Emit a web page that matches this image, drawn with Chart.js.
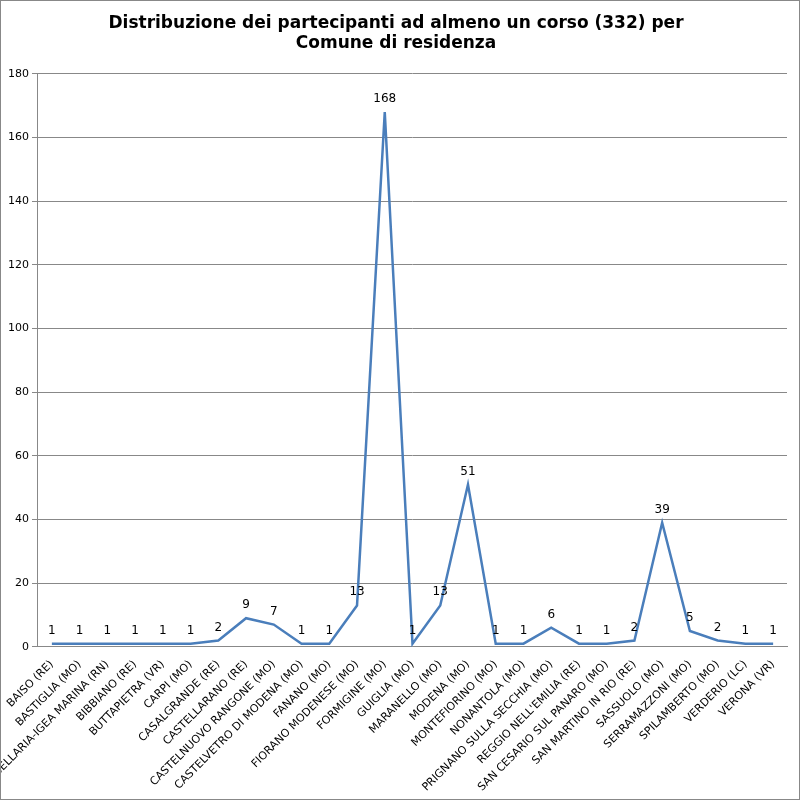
<!DOCTYPE html>
<html><head><meta charset="utf-8">
<script src="https://cdn.jsdelivr.net/npm/chart.js@4"></script>
<style>html,body{margin:0;background:#fff}#wrap{width:798px;height:798px;border:1px solid #888;position:relative}</style>
</head><body><div id="wrap"><canvas id="c" width="798" height="798"></canvas></div>
<script>
var comuni = ["BAISO (RE)","BASTIGLIA (MO)","BELLARIA-IGEA MARINA (RN)","BIBBIANO (RE)","BUTTAPIETRA (VR)","CARPI (MO)","CASALGRANDE (RE)","CASTELLARANO (RE)","CASTELNUOVO RANGONE (MO)","CASTELVETRO DI MODENA (MO)","FANANO (MO)","FIORANO MODENESE (MO)","FORMIGINE (MO)","GUIGLIA (MO)","MARANELLO (MO)","MODENA (MO)","MONTEFIORINO (MO)","NONANTOLA (MO)","PRIGNANO SULLA SECCHIA (MO)","REGGIO NELL'EMILIA (RE)","SAN CESARIO SUL PANARO (MO)","SAN MARTINO IN RIO (RE)","SASSUOLO (MO)","SERRAMAZZONI (MO)","SPILAMBERTO (MO)","VERDERIO (LC)","VERONA (VR)"];
var partecipanti = [1,1,1,1,1,1,2,9,7,1,1,13,168,1,13,51,1,1,6,1,1,2,39,5,2,1,1];
var titolo = ["Distribuzione dei partecipanti ad almeno un corso (332) per","Comune di residenza"];

var valueLabels = {
  id: "valueLabels",
  afterDatasetsDraw: function (chart) {
    var ctx = chart.ctx;
    var meta = chart.getDatasetMeta(0);
    ctx.save();
    ctx.font = "12px 'DejaVu Sans'";
    ctx.fillStyle = "#000";
    ctx.textAlign = "center";
    meta.data.forEach(function (p, i) {
      ctx.fillText(partecipanti[i], p.x, p.y - 10);
    });
    ctx.restore();
  }
};

new Chart(document.getElementById("c").getContext("2d"), {
  type: "line",
  data: {
    labels: comuni,
    datasets: [{
      data: partecipanti,
      borderColor: "#4a7ebb",
      borderWidth: 2.5,
      pointRadius: 0,
      tension: 0,
      fill: false
    }]
  },
  options: {
    responsive: false,
    animation: false,
    layout: { padding: { top: 8, right: 12, left: 4, bottom: 2 } },
    plugins: {
      legend: { display: false },
      tooltip: { enabled: false },
      title: {
        display: true,
        text: titolo,
        color: "#000",
        font: { family: "'DejaVu Sans'", size: 17, weight: "bold" },
        padding: { top: 4, bottom: 20 }
      }
    },
    scales: {
      x: {
        offset: true,
        grid: { display: false },
        border: { color: "#888" },
        ticks: {
          autoSkip: false, maxRotation: 45, minRotation: 45,
          color: "#000", font: { family: "'DejaVu Sans'", size: 11 }
        },
        afterFit: function (s) { s.paddingLeft = 0; }
      },
      y: {
        min: 0, max: 180,
        ticks: { stepSize: 20, color: "#000", font: { family: "'DejaVu Sans'", size: 11 } },
        grid: { color: "#888", tickLength: 6 },
        border: { color: "#888" }
      }
    }
  },
  plugins: [valueLabels]
});
</script></body></html>
